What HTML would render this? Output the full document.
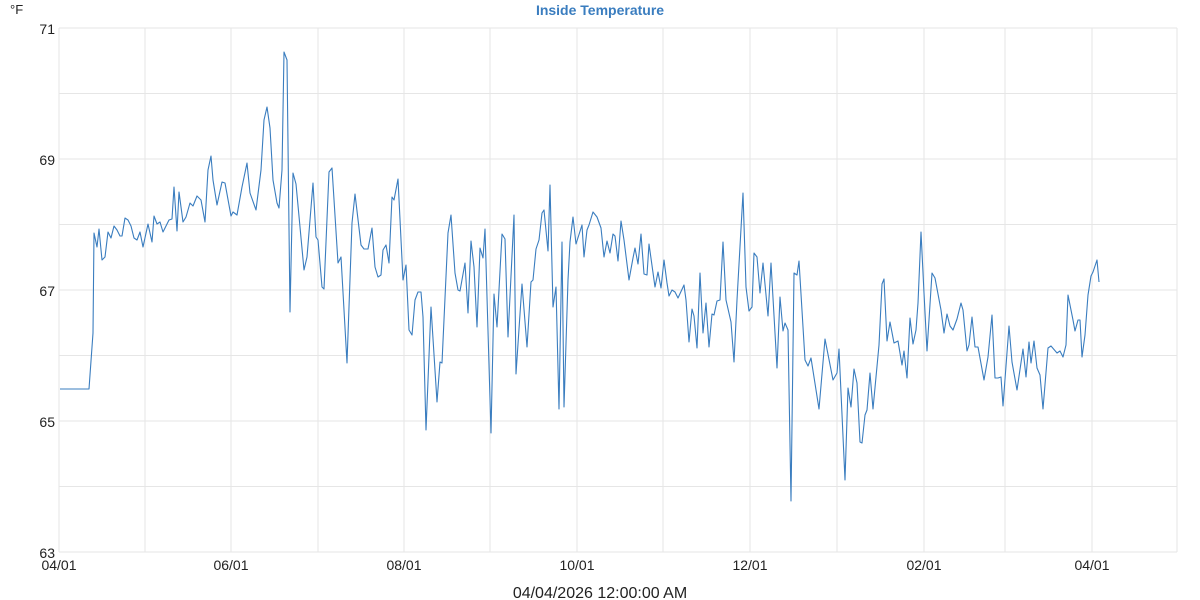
<!DOCTYPE html>
<html><head><meta charset="utf-8"><style>
html,body{margin:0;padding:0;background:#fff;}
svg{display:block;font-family:"Liberation Sans",sans-serif;}
</style></head><body>
<svg width="1200" height="600" xmlns="http://www.w3.org/2000/svg">
<g stroke="#e6e6e6" stroke-width="1">
<line x1="59" y1="28" x2="1177" y2="28"/><line x1="59" y1="93.5" x2="1177" y2="93.5"/>
<line x1="59" y1="159" x2="1177" y2="159"/><line x1="59" y1="224.5" x2="1177" y2="224.5"/>
<line x1="59" y1="290" x2="1177" y2="290"/><line x1="59" y1="355.5" x2="1177" y2="355.5"/>
<line x1="59" y1="421" x2="1177" y2="421"/><line x1="59" y1="486.5" x2="1177" y2="486.5"/>
<line x1="59" y1="552" x2="1177" y2="552"/>
<line x1="59" y1="28" x2="59" y2="552"/><line x1="145" y1="28" x2="145" y2="552"/>
<line x1="231" y1="28" x2="231" y2="552"/><line x1="318" y1="28" x2="318" y2="552"/>
<line x1="404" y1="28" x2="404" y2="552"/><line x1="490" y1="28" x2="490" y2="552"/>
<line x1="577" y1="28" x2="577" y2="552"/><line x1="663" y1="28" x2="663" y2="552"/>
<line x1="750" y1="28" x2="750" y2="552"/><line x1="837" y1="28" x2="837" y2="552"/>
<line x1="924" y1="28" x2="924" y2="552"/><line x1="1005" y1="28" x2="1005" y2="552"/>
<line x1="1092" y1="28" x2="1092" y2="552"/><line x1="1177" y1="28" x2="1177" y2="552"/>
</g>
<text x="600" y="15" text-anchor="middle" font-size="14" font-weight="bold" fill="#3a7dbf">Inside Temperature</text>
<text x="10" y="14" font-size="13" fill="#222">°F</text>
<g font-size="14" fill="#222" text-anchor="end">
<text x="55" y="34">71</text><text x="55" y="165">69</text><text x="55" y="296">67</text><text x="55" y="427">65</text><text x="55" y="558">63</text>
</g>
<g font-size="14" fill="#222" text-anchor="middle">
<text x="59" y="570">04/01</text><text x="231" y="570">06/01</text><text x="404" y="570">08/01</text><text x="577" y="570">10/01</text><text x="750" y="570">12/01</text><text x="924" y="570">02/01</text><text x="1092" y="570">04/01</text>
</g>
<text x="600" y="598" text-anchor="middle" font-size="16" fill="#222">04/04/2026 12:00:00 AM</text>
<polyline fill="none" stroke="#3a7dbf" stroke-width="1.1" stroke-linejoin="round" points="
60,389 89,389 93,333 94,233 97,247 99,229 102,260 105,257 108,232 111,238 114,226 117,230 120,236 122,236 125,218 128,220 131,226 134,238 137,240 140,232 143,247 148,224 152,242 154,216 157,224 160,222 163,232 169,220 172,219 174,187 177,231 179,192 183,222 186,217 190,203 193,206 197,196 201,200 205,222 208,170 211,156 213,180 217,205 222,182 225,183 231,216 233,212 237,215 242,187 247,163 250,193 256,210 261,170 264,120 267,107 270,128 273,180 277,203 279,208 282,170 284,52 287,60 290,312 293,173 296,184 304,270 307,257 313,183 316,237 318,240 322,287 324,289 329,172 332,168 338,263 341,257 347,363 352,223 355,194 361,245 364,249 368,249 372,228 375,267 378,277 381,275 383,250 386,245 389,263 392,197 394,200 398,179 403,280 406,265 409,330 412,335 415,300 418,292 421,292 423,317 426,430 431,307 437,402 440,362 442,363 448,233 451,215 455,273 458,290 460,291 465,263 468,313 471,241 474,267 477,327 480,248 483,258 485,229 491,433 494,294 497,327 502,234 505,239 508,337 514,215 516,374 522,284 527,347 531,282 533,280 536,249 539,240 542,213 544,210 548,251 550,185 553,307 556,287 559,409 562,242 564,407 568,280 570,242 573,217 576,244 582,225 584,257 587,230 589,225 593,212 597,217 601,228 604,257 607,241 610,253 613,234 615,236 618,261 621,221 624,240 629,280 633,258 635,248 638,264 641,234 644,274 647,275 649,244 655,287 658,272 661,288 664,260 667,283 669,296 672,290 675,292 678,298 684,285 686,300 689,342 692,309 694,316 697,348 700,273 703,333 706,303 709,347 712,314 714,315 717,301 720,300 723,242 726,300 731,322 734,362 737,300 743,193 746,287 749,311 752,307 754,253 757,257 760,293 763,263 768,316 771,263 777,368 780,297 783,331 785,323 788,330 791,501 794,273 797,275 799,261 805,360 808,366 811,358 819,409 825,339 833,380 837,373 839,349 845,480 848,388 851,407 854,369 857,383 860,442 862,443 865,415 867,410 870,373 873,409 879,345 882,284 884,279 887,341 890,322 894,343 898,341 902,365 904,351 907,378 910,318 913,344 916,330 918,303 921,232 924,293 927,351 932,273 935,278 941,310 944,333 947,314 950,326 953,330 957,319 961,303 963,310 967,351 969,345 972,317 975,347 978,347 984,380 988,357 992,315 995,378 998,378 1001,377 1003,406 1009,326 1012,362 1017,390 1023,349 1026,377 1029,342 1031,363 1034,341 1037,368 1040,375 1043,409 1048,348 1051,346 1057,353 1060,351 1063,357 1066,345 1068,295 1073,320 1075,331 1078,320 1080,320 1082,357 1085,335 1088,295 1091,276 1093,272 1097,260 1099,282"/>
</svg>
</body></html>
